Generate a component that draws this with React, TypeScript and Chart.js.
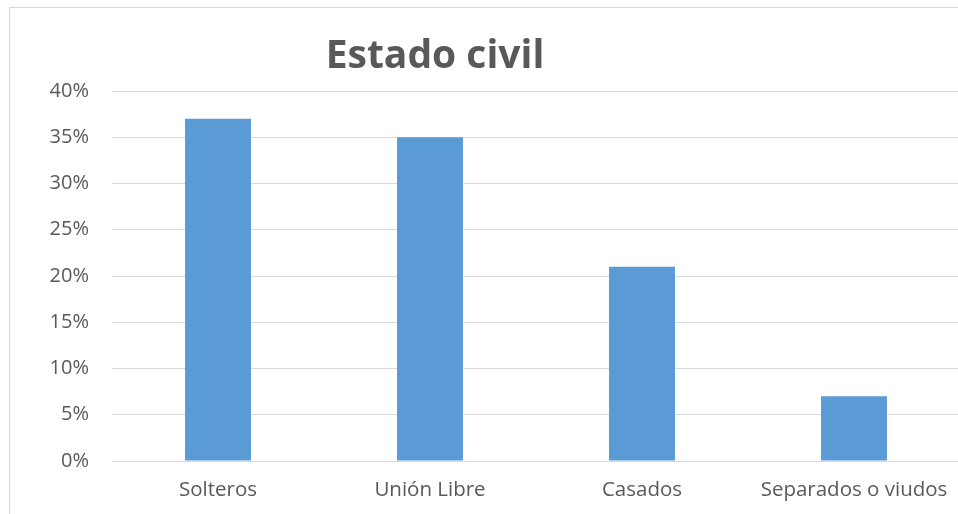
import React, { useEffect, useRef } from "react";
import { Chart, registerables } from "chart.js";

Chart.register(...registerables);

const categories = ["Solteros", "Unión Libre", "Casados", "Separados o viudos"];
const values = [0.37, 0.35, 0.21, 0.07];
const yTicks = [0, 0.05, 0.1, 0.15, 0.2, 0.25, 0.3, 0.35, 0.4];
const titleText = "Estado civil";

const FONT = "'Open Sans', 'DejaVu Sans', sans-serif";
const TEXT = "#595959";

export default function App() {
  const ref = useRef<HTMLCanvasElement | null>(null);
  useEffect(() => {
    if (!ref.current) return;
    const titlePlugin = {
      id: "customTitle",
      afterDraw(chart: any) {
        const ctx = chart.ctx;
        ctx.save();
        ctx.font = `bold 39px ${FONT}`;
        ctx.fillStyle = TEXT;
        ctx.textAlign = "center";
        ctx.textBaseline = "middle";
        ctx.fillText(titleText, 435, 57);
        ctx.restore();
      },
    };
    const chart = new Chart(ref.current, {
      type: "bar",
      data: {
        labels: categories,
        datasets: [
          {
            data: values,
            backgroundColor: "#5B9BD5",
            barPercentage: 0.311,
            categoryPercentage: 1,
          },
        ],
      },
      options: {
        animation: false,
        responsive: false,
        maintainAspectRatio: false,
        layout: { padding: { top: 91, right: 40, bottom: 0, left: 0 } },
        plugins: { legend: { display: false }, tooltip: { enabled: false }, title: { display: false } },
        scales: {
          x: {
            grid: { display: false, drawTicks: false },
            border: { display: false },
            ticks: { color: TEXT, font: { family: FONT, size: 20.5 }, padding: 17, maxRotation: 0 },
            afterFit(scale: any) {
              scale.height = 53;
            },
          },
          y: {
            min: 0,
            max: 0.4,
            afterBuildTicks(scale: any) {
              scale.ticks = yTicks.map((v) => ({ value: v }));
            },
            grid: { color: "#d9d9d9", lineWidth: 1, drawTicks: false },
            border: { display: false },
            ticks: {
              color: TEXT,
              font: { family: FONT, size: 20 },
              padding: 23,
              callback: (v: any) => Math.round(Number(v) * 100) + "%",
            },
            afterFit(scale: any) {
              scale.width = 112;
            },
          },
        },
      },
      plugins: [titlePlugin],
    });
    return () => chart.destroy();
  }, []);
  return (
    <div style={{ position: "fixed", left: 0, top: 0, width: 958, height: 514, overflow: "hidden", background: "#fff" }}>
      <div
        style={{
          position: "absolute",
          left: 9,
          top: 7,
          width: 1200,
          height: 800,
          borderLeft: "1.5px solid #d9d9d9",
          borderTop: "1.5px solid #d9d9d9",
        }}
      />
      <canvas ref={ref} width={1000} height={514} style={{ position: "absolute", left: 0, top: 0 }} />
    </div>
  );
}
